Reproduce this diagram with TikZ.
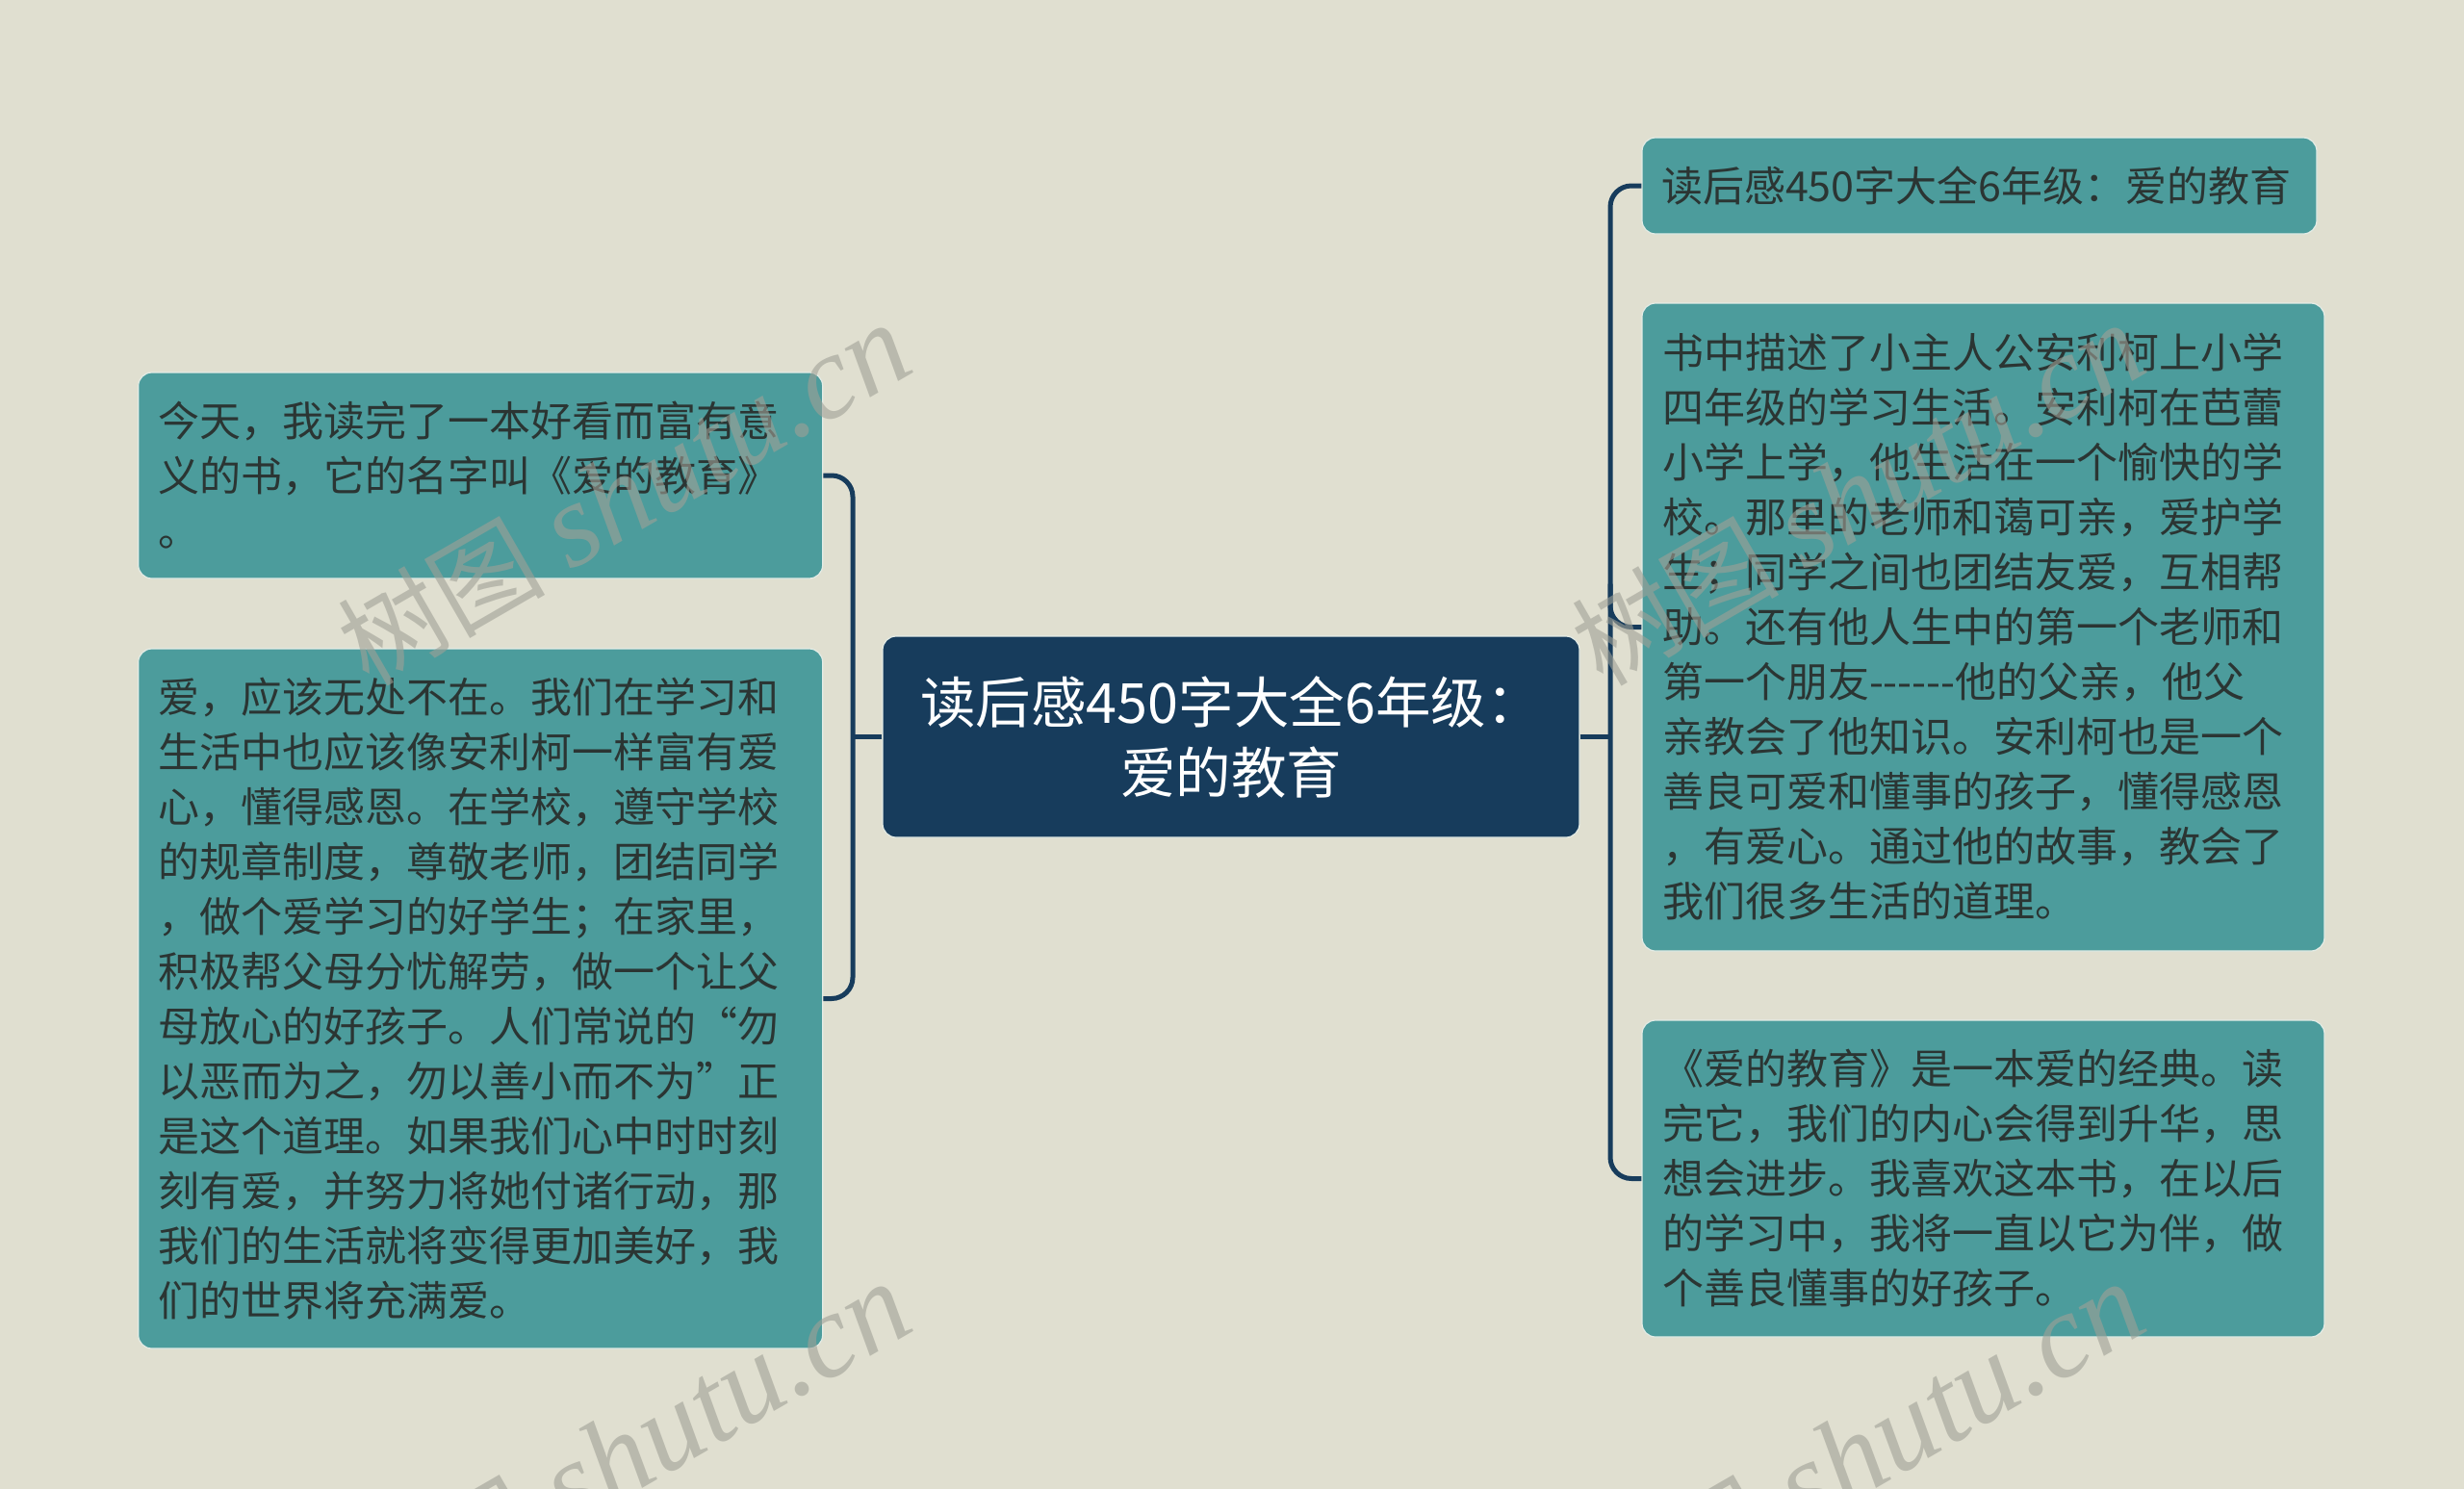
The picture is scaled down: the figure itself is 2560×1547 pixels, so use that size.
\documentclass[tikz,border=0pt]{standalone}
\usepackage{fontspec}
\newfontfamily\cjk{Noto Sans CJK SC}
\newfontfamily\wmserif{Liberation Serif}
\usetikzlibrary{calc}
\definecolor{bgcol}{HTML}{E0DFD0}
\definecolor{tealbox}{HTML}{4C9C9C}
\definecolor{navybox}{HTML}{173C5C}
\definecolor{boxedge}{HTML}{E4ECE6}
\definecolor{txtcol}{HTML}{2B3533}
\definecolor{wmcol}{HTML}{A0A096}
\newcommand{\wmtext}{{\cjk\fontsize{108}{108}\selectfont 树图}\hspace{26pt}{\wmserif\itshape\fontsize{124}{124}\selectfont shutu.cn}}
\begin{document}
\begin{tikzpicture}[x=1pt,y=-1pt,
  leaf/.style={rectangle, rounded corners=14pt, fill=tealbox, draw=boxedge, line width=1.2pt,
    text=txtcol, align=left, inner xsep=21pt, inner ysep=0pt,
    font=\cjk\fontsize{43}{57}\selectfont},
  rootbox/.style={rectangle, rounded corners=14pt, fill=navybox, draw=boxedge, line width=1.2pt,
    text=white, align=center, inner xsep=10pt, inner ysep=0pt,
    font=\cjk\fontsize{57.5}{73}\selectfont},
  conn/.style={draw=navybox, line width=5pt, rounded corners=22pt},
  wmark/.style={text=wmcol, opacity=0.6, rotate=30, inner sep=0pt}]
\useasboundingbox (0,0) rectangle (2560,1547);
\fill[bgcol] (0,0) rectangle (2560,1547);

% nodes
\node[rootbox, minimum width=724pt, minimum height=209pt, text width=704pt] (c) at (1279,765.5)
  {读后感450字大全6年级：\\爱的教育};

\node[leaf, minimum width=711pt, minimum height=214pt, text width=669pt] (l1) at (499.2,494)
  {今天，我读完了一本好看而富有意\\义的书，它的名字叫《爱的教育》\\。};

\node[leaf, minimum width=711pt, minimum height=727pt, text width=669pt] (l2) at (499.2,1037.5)
  {爱，应该无处不在。我们在学习和\\生活中也应该像安利柯一样富有爱\\心，懂得感恩。在学校，遵守学校\\的规章制度，尊敬老师，团结同学\\，做个爱学习的好学生；在家里，\\积极帮父母分忧解劳，做一个让父\\母放心的好孩子。人们常说的“勿\\以恶而为之，勿以善小而不为”正\\是这个道理。如果我们心中时时刻\\刻有爱，并努力将她付诸行动，那\\我们的生活就将变得更加美好，我\\们的世界将充满爱。};

\node[leaf, minimum width=701pt, minimum height=100pt, text width=661pt, inner xsep=20pt] (r1) at (2056.5,193)
  {读后感450字大全6年级：爱的教育};

\node[leaf, minimum width=709pt, minimum height=673pt, text width=667pt] (r2) at (2060.5,651.5)
  {书中描述了小主人公安利柯上小学\\四年级的学习生活。安利柯在芭蕾\\小学上学，他生活在一个愉快的学\\校。那里的老师和蔼可亲，爱护学\\生；同学之间也团结友爱，互相帮\\助。还有他人生中的第一个老师和\\第一个朋友------他的父亲，他父\\亲教会了他知识。安利柯也是一个\\善良可爱和懂事的孩子，懂得感恩\\，有爱心。通过他的故事，教会了\\我们很多生活的道理。};

\node[leaf, minimum width=709pt, minimum height=329pt, text width=667pt] (r3) at (2060.5,1224.5)
  {《爱的教育》是一本爱的经典。读\\完它，我们的内心会得到升华，思\\想会进步。我喜欢这本书，在以后\\的学习中，我将一直以它为伴，做\\个善良懂事的好孩子。};

% connectors
\coordinate (lb) at (886,765.5);
\coordinate (rb) at (1673,765.5);
\draw[conn] (c.west) -- (lb);
\draw[conn] (l1.east) -- (l1.east -| lb) -- (l2.east -| lb) -- (l2.east);
\draw[conn] (c.east) -- (rb);
\draw[conn] (r1.west) -- (r1.west -| rb) -- (r3.west -| rb) -- (r3.west);
\draw[conn] ($(r2.west -| rb)+(0,-45)$) -- (r2.west -| rb) -- (r2.west);

% watermarks
\node[wmark] (w1) at (648,514) {\wmtext};
\node[wmark] (w2) at (1930,514) {\wmtext};
\node[wmark] (w3) at (648,1510) {\wmtext};
\node[wmark] (w4) at (1930,1510) {\wmtext};
\end{tikzpicture}
\end{document}
